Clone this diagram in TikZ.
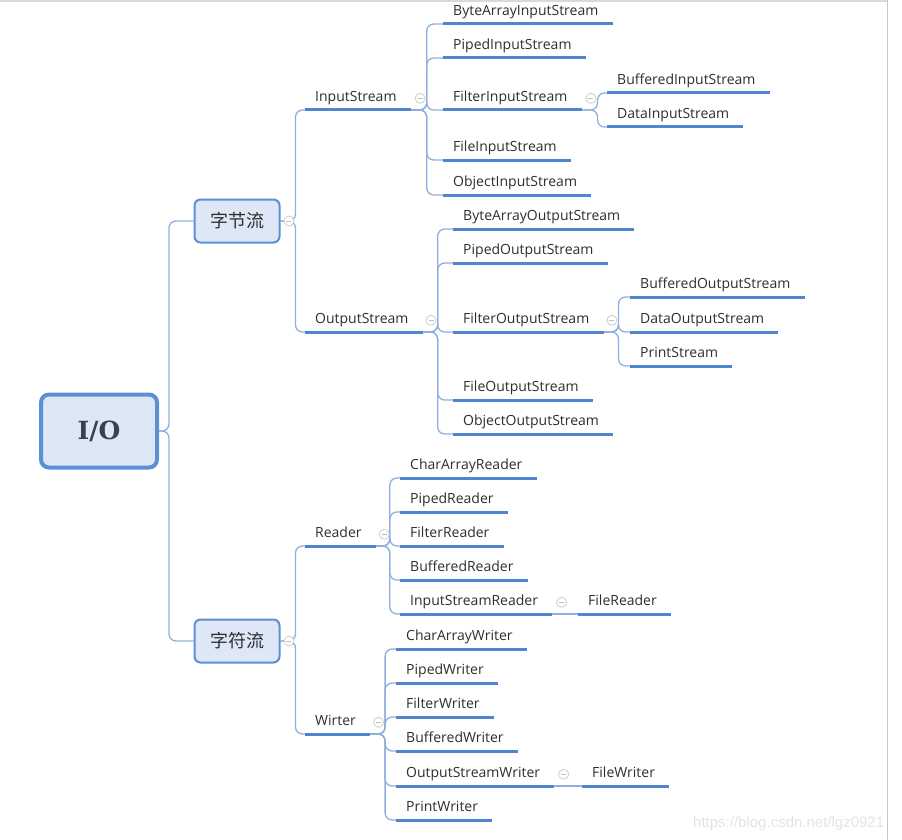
\documentclass[tikz,border=0pt]{standalone}
\usepackage{fontspec}
\setmainfont{Open Sans}
\newfontfamily\cjk{Noto Sans CJK SC}
\newfontfamily\slab{DejaVu Serif}
\usetikzlibrary{positioning}

\definecolor{lineblue}{HTML}{4F86CF}
\definecolor{linkblue}{HTML}{8FB0DC}
\definecolor{boxfill}{HTML}{DDE7F5}
\definecolor{boxline}{HTML}{5B8FD6}
\definecolor{txt}{HTML}{2E2E2E}

\tikzset{
  leaf/.style={anchor=south west, inner xsep=10pt, inner ysep=5pt,
    text height=10pt, text depth=3pt, text=txt,
    font=\fontsize{14}{16}\selectfont},
  uline/.style={lineblue, line width=3pt},
  link/.style={linkblue, line width=1.3pt, rounded corners=7pt},
  topic/.style={draw=boxline, fill=boxfill, line width=2pt, rounded corners=6pt,
    minimum width=85pt, minimum height=43pt, text=txt,
    font=\cjk\fontsize{18}{20}\selectfont},
  root/.style={draw=boxline, fill=boxfill, line width=4pt, rounded corners=8pt,
    minimum width=116pt, minimum height=73pt, text=txt!80!boxline,
    font=\slab\bfseries\fontsize{25}{28}\selectfont},
  fold/.style={circle, draw=gray!40, fill=white, line width=0.8pt,
    inner sep=0pt, minimum size=10pt,
    path picture={\draw[gray!50, line width=0.8pt]
      ([xshift=-2.5pt]path picture bounding box.center) --
      ([xshift=2.5pt]path picture bounding box.center);}},
}

\begin{document}
\begin{tikzpicture}[x=1pt, y=-1pt]
  \useasboundingbox (0,0) rectangle (902,840);
  % frame of the screenshot
  \draw[gray!30, line width=2pt] (0,1) -- (887,1);
  \draw[gray!45, line width=1pt] (887,0) -- (887,840);

  % main topics
  \node[root] (IO) at (99,431) {I/O};
  \node[topic] (BS) at (237,221) {字节流};
  \node[topic] (CS) at (237,641) {字符流};

  % byte streams
  \node[leaf] (IS) at (305,110) {InputStream};
  \node[leaf] (BAIS) at (443,24) {ByteArrayInputStream};
  \node[leaf] (PIS) at (443,58) {PipedInputStream};
  \node[leaf] (FiIS) at (443,110) {FilterInputStream};
  \node[leaf] (FlIS) at (443,160) {FileInputStream};
  \node[leaf] (OIS) at (443,195) {ObjectInputStream};
  \node[leaf] (BIS) at (607,93) {BufferedInputStream};
  \node[leaf] (DIS) at (607,127) {DataInputStream};

  \node[leaf] (OS) at (305,332) {OutputStream};
  \node[leaf] (BAOS) at (453,229) {ByteArrayOutputStream};
  \node[leaf] (POS) at (453,263) {PipedOutputStream};
  \node[leaf] (FiOS) at (453,332) {FilterOutputStream};
  \node[leaf] (FlOS) at (453,400) {FileOutputStream};
  \node[leaf] (OOS) at (453,434) {ObjectOutputStream};
  \node[leaf] (BOS) at (630,297) {BufferedOutputStream};
  \node[leaf] (DOS) at (630,332) {DataOutputStream};
  \node[leaf] (PS) at (630,366) {PrintStream};

  % character streams
  \node[leaf] (Rd) at (305,546) {Reader};
  \node[leaf] (CAR) at (400,478) {CharArrayReader};
  \node[leaf] (PR) at (400,512) {PipedReader};
  \node[leaf] (FR) at (400,546) {FilterReader};
  \node[leaf] (BR) at (400,580) {BufferedReader};
  \node[leaf] (ISR) at (400,614) {InputStreamReader};
  \node[leaf] (FlR) at (578,614) {FileReader};

  \node[leaf] (Wr) at (305,734) {Wirter};
  \node[leaf] (CAW) at (396,649) {CharArrayWriter};
  \node[leaf] (PW) at (396,683) {PipedWriter};
  \node[leaf] (FW) at (396,717) {FilterWriter};
  \node[leaf] (BW) at (396,751) {BufferedWriter};
  \node[leaf] (OSW) at (396,786) {OutputStreamWriter};
  \node[leaf] (FlW) at (582,786) {FileWriter};
  \node[leaf] (PrW) at (396,820) {PrintWriter};

  % fork points
  \coordinate[right=10pt of IO.east] (IOf);
  \coordinate[right=15pt of BS.east] (BSf);
  \coordinate[right=15pt of CS.east] (CSf);
  \coordinate[right=20pt of IS.south east] (ISf);
  \coordinate[right=20pt of FiIS.south east] (FiISf);
  \coordinate[right=19pt of OS.south east] (OSf);
  \coordinate[right=19pt of FiOS.south east] (FiOSf);
  \coordinate[right=18pt of Rd.south east] (Rdf);
  \coordinate[right=19pt of Wr.south east] (Wrf);

  % connectors
  \draw[link] (IO.east) -- (IOf) |- (BS.west);
  \draw[link] (IO.east) -- (IOf) |- (CS.west);
  \draw[link] (BS.east) -- (BSf) |- (IS.south west);
  \draw[link] (BS.east) -- (BSf) |- (OS.south west);
  \draw[link] (CS.east) -- (CSf) |- (Rd.south west);
  \draw[link] (CS.east) -- (CSf) |- (Wr.south west);
  \foreach \c in {BAIS,PIS,FiIS,FlIS,OIS}
    \draw[link] (IS.south east) -- (ISf) |- (\c.south west);
  \foreach \c in {BIS,DIS}
    \draw[link] (FiIS.south east) -- (FiISf) |- (\c.south west);
  \foreach \c in {BAOS,POS,FiOS,FlOS,OOS}
    \draw[link] (OS.south east) -- (OSf) |- (\c.south west);
  \foreach \c in {BOS,DOS,PS}
    \draw[link] (FiOS.south east) -- (FiOSf) |- (\c.south west);
  \foreach \c in {CAR,PR,FR,BR,ISR}
    \draw[link] (Rd.south east) -- (Rdf) |- (\c.south west);
  \foreach \c in {CAW,PW,FW,BW,OSW,PrW}
    \draw[link] (Wr.south east) -- (Wrf) |- (\c.south west);
  \draw[link] (ISR.south east) -- (FlR.south west);
  \draw[link] (OSW.south east) -- (FlW.south west);

  % underlines
  \foreach \n in {IS,BAIS,PIS,FiIS,FlIS,OIS,BIS,DIS,
                  OS,BAOS,POS,FiOS,FlOS,OOS,BOS,DOS,PS,
                  Rd,CAR,PR,FR,BR,ISR,FlR,
                  Wr,CAW,PW,FW,BW,OSW,FlW,PrW}
    \draw[uline] (\n.south west) -- ([xshift=4pt]\n.south east);

  % fold markers
  \node[fold, right=3pt of BS.east] (BSm) {};
  \node[fold, right=3pt of CS.east] (CSm) {};
  \node[fold, right=8pt of IS.east] (ISm) {};
  \node[fold, right=8pt of FiIS.east] (FiISm) {};
  \node[fold, right=7pt of OS.east] (OSm) {};
  \node[fold, right=7pt of FiOS.east] (FiOSm) {};
  \node[fold, right=7pt of Rd.east] (Rdm) {};
  \node[fold, right=8pt of ISR.east] (ISRm) {};
  \node[fold, right=7pt of Wr.east] (Wrm) {};
  \node[fold, right=8pt of OSW.east] (OSWm) {};

  % watermark
  \node[anchor=base west, text=gray!22, inner sep=0pt,
    font=\fontspec{Liberation Sans}\fontsize{15}{17}\selectfont] (wm) at (693,827)
    {https://blog.csdn.net/lgz0921};
\end{tikzpicture}
\end{document}
